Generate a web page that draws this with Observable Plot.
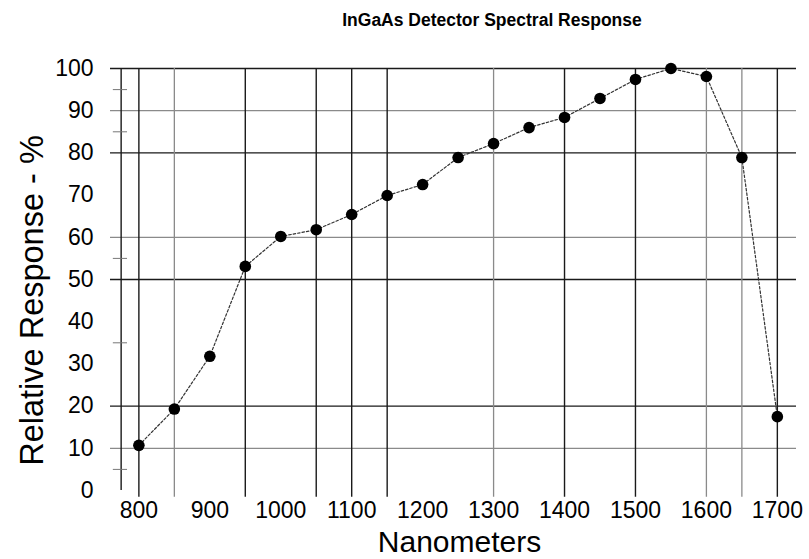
<!DOCTYPE html>
<html>
<head>
<meta charset="utf-8">
<script src="https://cdn.jsdelivr.net/npm/d3@7"></script>
<script src="https://cdn.jsdelivr.net/npm/@observablehq/plot@0.6"></script>
<style>
  html, body { margin: 0; padding: 0; background: #fff; }
  #title {
    width: 809px; height: 40px; line-height: 40px; box-sizing: border-box;
    padding-left: 175px; text-align: center;
    font-family: "Liberation Sans", Arial, sans-serif; font-weight: bold; font-size: 17.5px; color: #000;
  }
  #chart svg { display: block; }
</style>
</head>
<body>
<div id="title">InGaAs Detector Spectral Response</div>
<div id="chart"></div>
<script>
// Data
const wavelengths = [800, 850, 900, 950, 1000, 1050, 1100, 1150, 1200, 1250, 1300, 1350, 1400, 1450, 1500, 1550, 1600, 1650, 1700];
const responses   = [10.7, 19.3, 31.8, 53.1, 60.2, 61.8, 65.4, 69.9, 72.5, 78.9, 82.2, 86.0, 88.4, 92.9, 97.4, 100, 98.1, 78.9, 17.5];

// Tick labels
const xTicks = [800, 900, 1000, 1100, 1200, 1300, 1400, 1500, 1600, 1700];
const yTicks = [0, 10, 20, 30, 40, 50, 60, 70, 80, 90, 100];

// Grid lines as drawn in the reference
const hGridDark = [100, 80, 50, 20];
const hGridLight = [90, 60, 10];
const vGridDark = [800, 950, 1050, 1100, 1150, 1400, 1500, 1700];
const vGridLight = [850, 1300, 1600, 1650];
const yMinorTicks = [95, 85, 55, 35, 5];
const yAxisAt = 775;

const data = wavelengths.map((w, i) => ({w, r: responses[i]}));
const font = "'Liberation Sans', Arial, sans-serif";

const chart = Plot.plot({
  width: 809,
  height: 519,
  marginLeft: 110,
  marginRight: 13,
  marginTop: 28,
  marginBottom: 69,
  x: {domain: [760, 1727]},
  y: {domain: [0, 100]},
  style: {fontFamily: font, color: "#000", background: "#fff", overflow: "visible"},
  marks: [
    Plot.ruleY(hGridLight, {stroke: "#8a8a8a", strokeWidth: 1.3}),
    Plot.ruleY(hGridDark, {stroke: "#1a1a1a", strokeWidth: 1.4}),
    Plot.ruleX(vGridLight, {y1: -1.6, y2: 100, stroke: "#8a8a8a", strokeWidth: 1.3}),
    Plot.ruleX(vGridDark, {y1: -1.6, y2: 100, stroke: "#1a1a1a", strokeWidth: 1.4}),
    Plot.ruleX([yAxisAt], {y1: 0, y2: 100, stroke: "#1a1a1a", strokeWidth: 1.4}),
    Plot.ruleY(yMinorTicks, {x1: 764, x2: 784, stroke: "#777", strokeWidth: 1}),
    Plot.line(data, {x: "w", y: "r", curve: "linear", stroke: "#333", strokeWidth: 1.2, strokeDasharray: "2.5,2"}),
    Plot.dot(data, {x: "w", y: "r", r: 5.8, fill: "#000", stroke: "none"}),
    Plot.axisX({ticks: xTicks, tickSize: 0, tickPadding: 11, fontSize: 23, label: null, tickFormat: d => String(d)}),
    Plot.axisY({ticks: yTicks, tickSize: 0, tickPadding: 17, fontSize: 23, label: null}),
    Plot.text(["Nanometers"], {frameAnchor: "bottom", dx: 6, dy: 52, fontSize: 30, textAnchor: "middle", lineAnchor: "middle"}),
    Plot.text(["Relative Response - %"], {frameAnchor: "left", rotate: -90, dx: -78, dy: 21, fontSize: 32.5, textAnchor: "middle", lineAnchor: "middle"})
  ]
});
document.getElementById("chart").appendChild(chart);
</script>
</body>
</html>
